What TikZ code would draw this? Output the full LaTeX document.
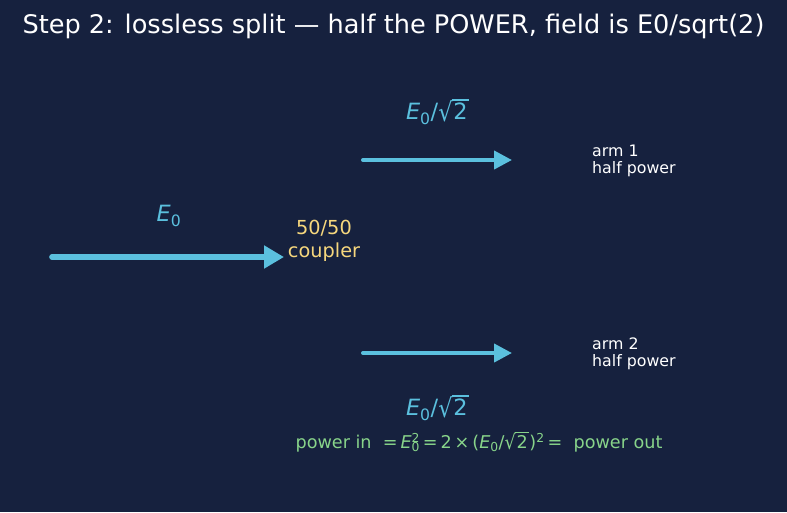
\documentclass[tikz,border=0pt]{standalone}
\usepackage{fontspec}
\usepackage{graphicx}
\setmainfont{DejaVu Sans}
\usetikzlibrary{arrows.meta}
\definecolor{bg}{HTML}{16213E}
\definecolor{beam}{HTML}{5BC0DE}
\definecolor{gold}{HTML}{F6D77D}
\definecolor{eqgreen}{HTML}{88D48A}
\newcommand\Ezero{\textit{E}\textsubscript{0}}
\newcommand\rttwo{\raisebox{-0.08em}{\scalebox{1}[1.15]{√}}\kern-0.04em\rlap{\rule[0.86em]{0.78em}{0.06em}}\kern0.08em 2\kern0.1em}
\begin{document}
\begin{tikzpicture}[x=1pt,y=-1pt,
  lbl/.style={inner sep=0pt},
  beamline/.style={draw=beam,line cap=round}]
\fill[bg] (0,0) rectangle (787,512);
\useasboundingbox (0,0) rectangle (787,512);
\node[lbl,text=white,font=\fontsize{25.6}{30}\selectfont] (title) at (393.5,26) {Step 2: lossless split — half the POWER, field is E0/sqrt(2)};
% input
\coordinate (inS) at (52,257);
\coordinate (inE) at (284,257);
\draw[beamline,line width=5.6pt,-{Triangle[length=20pt,width=22pt]}] (inS) -- (inE);
\node[lbl,text=beam,font=\fontsize{22.4}{26}\selectfont] (lin) at (169,216) {\Ezero};
\node[lbl,text=gold,align=center,font=\fontsize{19.3}{22.5}\selectfont] (coup) at (324,241) {50/50\\coupler};
% arm 1
\coordinate (a1S) at (363,160);
\coordinate (a1E) at (512,160);
\draw[beamline,line width=4pt,-{Triangle[length=18pt,width=18pt]}] (a1S) -- (a1E);
\node[lbl,text=beam,font=\fontsize{22.4}{26}\selectfont] (l1) at (438,112) {\Ezero/\rttwo};
\node[lbl,text=white,align=left,anchor=west,font=\fontsize{15.8}{17}\selectfont] (t1) at (592,160.5) {arm 1\\half power};
% arm 2
\coordinate (a2S) at (363,353);
\coordinate (a2E) at (512,353);
\draw[beamline,line width=4pt,-{Triangle[length=18pt,width=18pt]}] (a2S) -- (a2E);
\node[lbl,text=beam,font=\fontsize{22.4}{26}\selectfont] (l2) at (438,408) {\Ezero/\rttwo};
\node[lbl,text=white,align=left,anchor=west,font=\fontsize{15.8}{17}\selectfont] (t2) at (592,353.5) {arm 2\\half power};
% equation
\node[lbl,text=eqgreen,font=\fontsize{17.6}{20}\selectfont] (eq) at (479,442) {power in \ =\,\textit{E}\rlap{\textsuperscript{2}}\textsubscript{0}\,=\,2\,×\,(\Ezero/\rttwo)\textsuperscript{2}\,=\ \ power out};
\end{tikzpicture}
\end{document}
